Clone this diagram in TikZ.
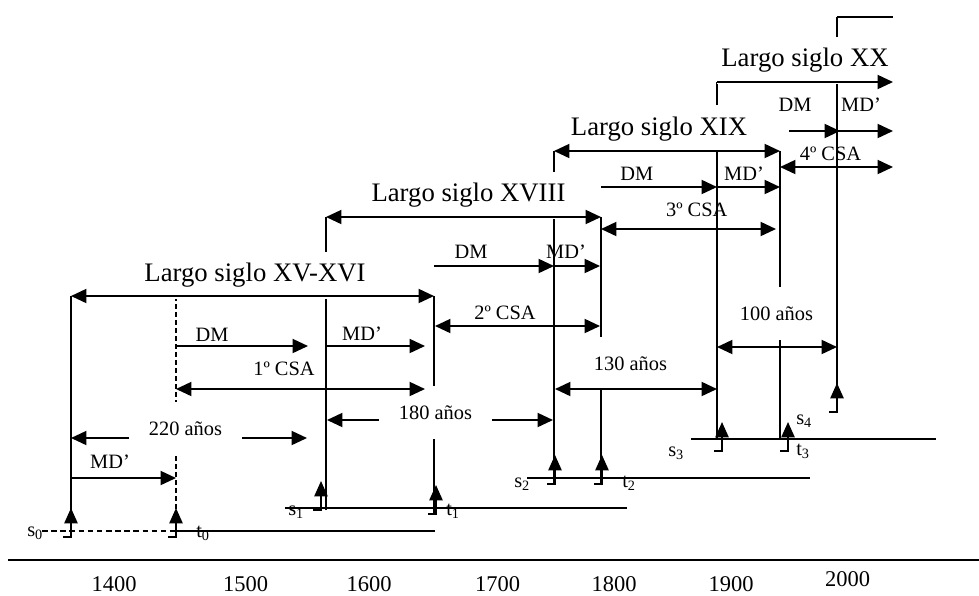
\documentclass[tikz,border=0pt]{standalone}
\usepackage{fontspec}
\setmainfont{Liberation Serif}
\usepackage{tikz}
\usetikzlibrary{arrows.meta}

\begin{document}
\begin{tikzpicture}[x=0.025cm, y=-0.025cm,
    ln/.style={line width=1.3pt},
    arr/.style={-{Triangle[length=11pt,width=10pt]}, line width=1.3pt},
    darr/.style={{Triangle[length=11pt,width=10pt]}-{Triangle[length=11pt,width=10pt]}, line width=1.3pt},
    hk/.style={-{Triangle[length=11pt,width=9.5pt]}, line width=1.3pt},
    hookmark/.pic={\draw[hk] (-8,0) -- (0,0) -- (0,-29);},
    ttl/.style={anchor=base, fill=white, inner xsep=3pt, inner ysep=8pt, font=\fontsize{19}{22}\selectfont},
    dur/.style={anchor=base, fill=white, inner xsep=14pt, inner ysep=14pt, font=\fontsize{14.5}{17}\selectfont},
    lbl/.style={anchor=base, font=\fontsize{14.5}{17}\selectfont},
    sub/.style={anchor=base west, inner sep=0pt, font=\fontsize{14.5}{17}\selectfont},
    yr/.style={anchor=base, font=\fontsize{16}{19}\selectfont}
]
\useasboundingbox (0,0) rectangle (979,595);

% verticals (top / bottom)
\coordinate (s0a) at (71,296);  \coordinate (s0b) at (71,537);
\coordinate (t0a) at (176,296); \coordinate (t0b) at (176,537);
\coordinate (s1a) at (326,217); \coordinate (s1b) at (326,510);
\coordinate (t1a) at (434,296); \coordinate (t1b) at (434,514);
\coordinate (s2a) at (554,151); \coordinate (s2b) at (554,484);
\coordinate (t2a) at (601,217); \coordinate (t2b) at (601,484);
\coordinate (s3a) at (717,82);  \coordinate (s3b) at (717,439);
\coordinate (t3a) at (780,151); \coordinate (t3b) at (780,439);
\coordinate (s4a) at (837,17);  \coordinate (s4b) at (837,412);

% arrow ends
\coordinate (dm1a) at (176,346); \coordinate (dm1b) at (308,346);
\coordinate (md1a) at (326,346); \coordinate (md1b) at (425,346);
\coordinate (c1a) at (176,389);  \coordinate (c1b) at (425,389);
\coordinate (y1a) at (71,438);   \coordinate (y1b) at (307,438);
\coordinate (md0a) at (71,478);  \coordinate (md0b) at (176,478);
\coordinate (dm2a) at (434,266); \coordinate (dm2b) at (554,266); \coordinate (md2b) at (600,266);
\coordinate (c2a) at (435,326);  \coordinate (c2b) at (600,326);
\coordinate (y2a) at (327,420);  \coordinate (y2b) at (553,420);
\coordinate (dm3a) at (601,187); \coordinate (dm3b) at (717,187); \coordinate (md3b) at (780,187);
\coordinate (c3a) at (601,229);  \coordinate (c3b) at (776,229);
\coordinate (y3a) at (555,389);  \coordinate (y3b) at (717,389);
\coordinate (dm4a) at (789,131); \coordinate (dm4b) at (840,131);
\coordinate (md4a) at (837,131); \coordinate (md4b) at (893,131);
\coordinate (c4a) at (780,167);  \coordinate (c4b) at (893,167);
\coordinate (y4a) at (717,347);  \coordinate (y4b) at (837,347);
\coordinate (e4) at (893,82);    \coordinate (e5) at (893,17);

% base lines and axis
\coordinate (b0a) at (42,531);  \coordinate (b0m) at (176,531); \coordinate (b0b) at (435,531);
\coordinate (b1a) at (285,508); \coordinate (b1b) at (627,508);
\coordinate (b2a) at (527,478); \coordinate (b2b) at (810,478);
\coordinate (b3a) at (691,439); \coordinate (b3b) at (936,439);
\coordinate (ax0) at (8,560);   \coordinate (ax1) at (979,560);

\draw[ln] (ax0) -- (ax1);
\draw[ln, dash pattern=on 4pt off 2.5pt] (b0a) -- (b0m);
\draw[ln] (b0m) -- (b0b);
\draw[ln] (b1a) -- (b1b);
\draw[ln] (b2a) -- (b2b);
\draw[ln] (b3a) -- (b3b);

\draw[ln] (s0a) -- (s0b);
\draw[ln, dash pattern=on 3.5pt off 2.2pt] (t0a) -- (t0b);
\draw[ln] (s1a) -- (s1b);
\draw[ln] (t1a) -- (t1b);
\draw[ln] (s2a) -- (s2b);
\draw[ln] (t2a) -- (t2b);
\draw[ln] (s3a) -- (s3b);
\draw[ln] (t3a) -- (t3b);
\draw[ln] (s4a) -- (s4b);

\pic at (71,537) {hookmark};
\pic at (176,537) {hookmark};
\pic at (321,510) {hookmark};
\pic at (436,514) {hookmark};
\pic at (555,484) {hookmark};
\pic at (602,484) {hookmark};
\pic at (722,451) {hookmark};
\pic at (788,451) {hookmark};
\pic at (837,412) {hookmark};

% titles
\node[ttl] (L1) at (255,281.7) {Largo siglo XV-XVI};
\node[ttl] (L2) at (468.5,201.7) {Largo siglo XVIII};
\node[ttl] (L3) at (659,135) {Largo siglo XIX};
\node[ttl] (L4) at (805,66.7) {Largo siglo XX};

% durations
\node[dur] (d220) at (185.5,435.7) {220 años};
\node[dur] (d180) at (435.5,419) {180 años};
\node[dur] (d130) at (630.5,370) {130 años};
\node[dur] (d100) at (776.5,320) {100 años};

% arrows
\draw[darr] (s0a) -- (t1a);
\draw[arr] (dm1a) -- (dm1b);
\draw[arr] (md1a) -- (md1b);
\draw[darr] (c1a) -- (c1b);
\draw[arr] (d220.west |- y1a) -- (y1a);
\draw[arr] (d220.east |- y1b) -- (y1b);
\draw[arr] (md0a) -- (md0b);

\draw[darr] (s1a) -- (t2a);
\draw[arr] (dm2a) -- (dm2b);
\draw[arr] (dm2b) -- (md2b);
\draw[darr] (c2a) -- (c2b);
\draw[arr] (d180.west |- y2a) -- (y2a);
\draw[arr] (d180.east |- y2b) -- (y2b);

\draw[darr] (s2a) -- (t3a);
\draw[arr] (dm3a) -- (dm3b);
\draw[arr] (dm3b) -- (md3b);
\draw[darr] (c3a) -- (c3b);
\draw[darr] (y3a) -- (y3b);

\draw[arr] (s3a) -- (e4);
\draw[ln] (s4a) -- (e5);
\draw[arr] (dm4a) -- (dm4b);
\draw[arr] (md4a) -- (md4b);
\draw[darr] (c4a) -- (c4b);
\draw[darr] (y4a) -- (y4b);

% labels
\node[lbl] (DM1) at (212,341.7) {DM};
\node[lbl] (MD1) at (362,340) {MD’};
\node[lbl] (CSA1) at (284,375.7) {1º CSA};
\node[lbl] (MD0) at (110,468.3) {MD’};
\node[lbl] (DM2) at (471,258.3) {DM};
\node[lbl] (MD2) at (566,258) {MD’};
\node[lbl] (CSA2) at (505,319.3) {2º CSA};
\node[lbl] (DM3) at (636.7,180) {DM};
\node[lbl] (MD3) at (744,180) {MD’};
\node[lbl] (CSA3) at (696.7,216.7) {3º CSA};
\node[lbl] (DM4) at (795,111.7) {DM};
\node[lbl] (MD4) at (861,111.7) {MD’};
\node[lbl] (CSA4) at (830.5,160) {4º CSA};

\node[sub] (ls0) at (27,536) {s\textsubscript{0}};
\node[sub] (lt0) at (196,537) {t\textsubscript{0}};
\node[sub] (ls1) at (288,515) {s\textsubscript{1}};
\node[sub] (lt1) at (446,515) {t\textsubscript{1}};
\node[sub] (ls2) at (514,487) {s\textsubscript{2}};
\node[sub] (lt2) at (622,487) {t\textsubscript{2}};
\node[sub] (ls3) at (668,456) {s\textsubscript{3}};
\node[sub] (lt3) at (796,455) {t\textsubscript{3}};
\node[sub] (ls4) at (796,424) {s\textsubscript{4}};

% years
\node[yr] (y1400) at (114,591) {1400};
\node[yr] (y1500) at (245.5,591) {1500};
\node[yr] (y1600) at (369,591) {1600};
\node[yr] (y1700) at (497.5,591) {1700};
\node[yr] (y1800) at (614,591) {1800};
\node[yr] (y1900) at (731,591) {1900};
\node[yr] (y2000) at (847.5,586) {2000};
\end{tikzpicture}
\end{document}
